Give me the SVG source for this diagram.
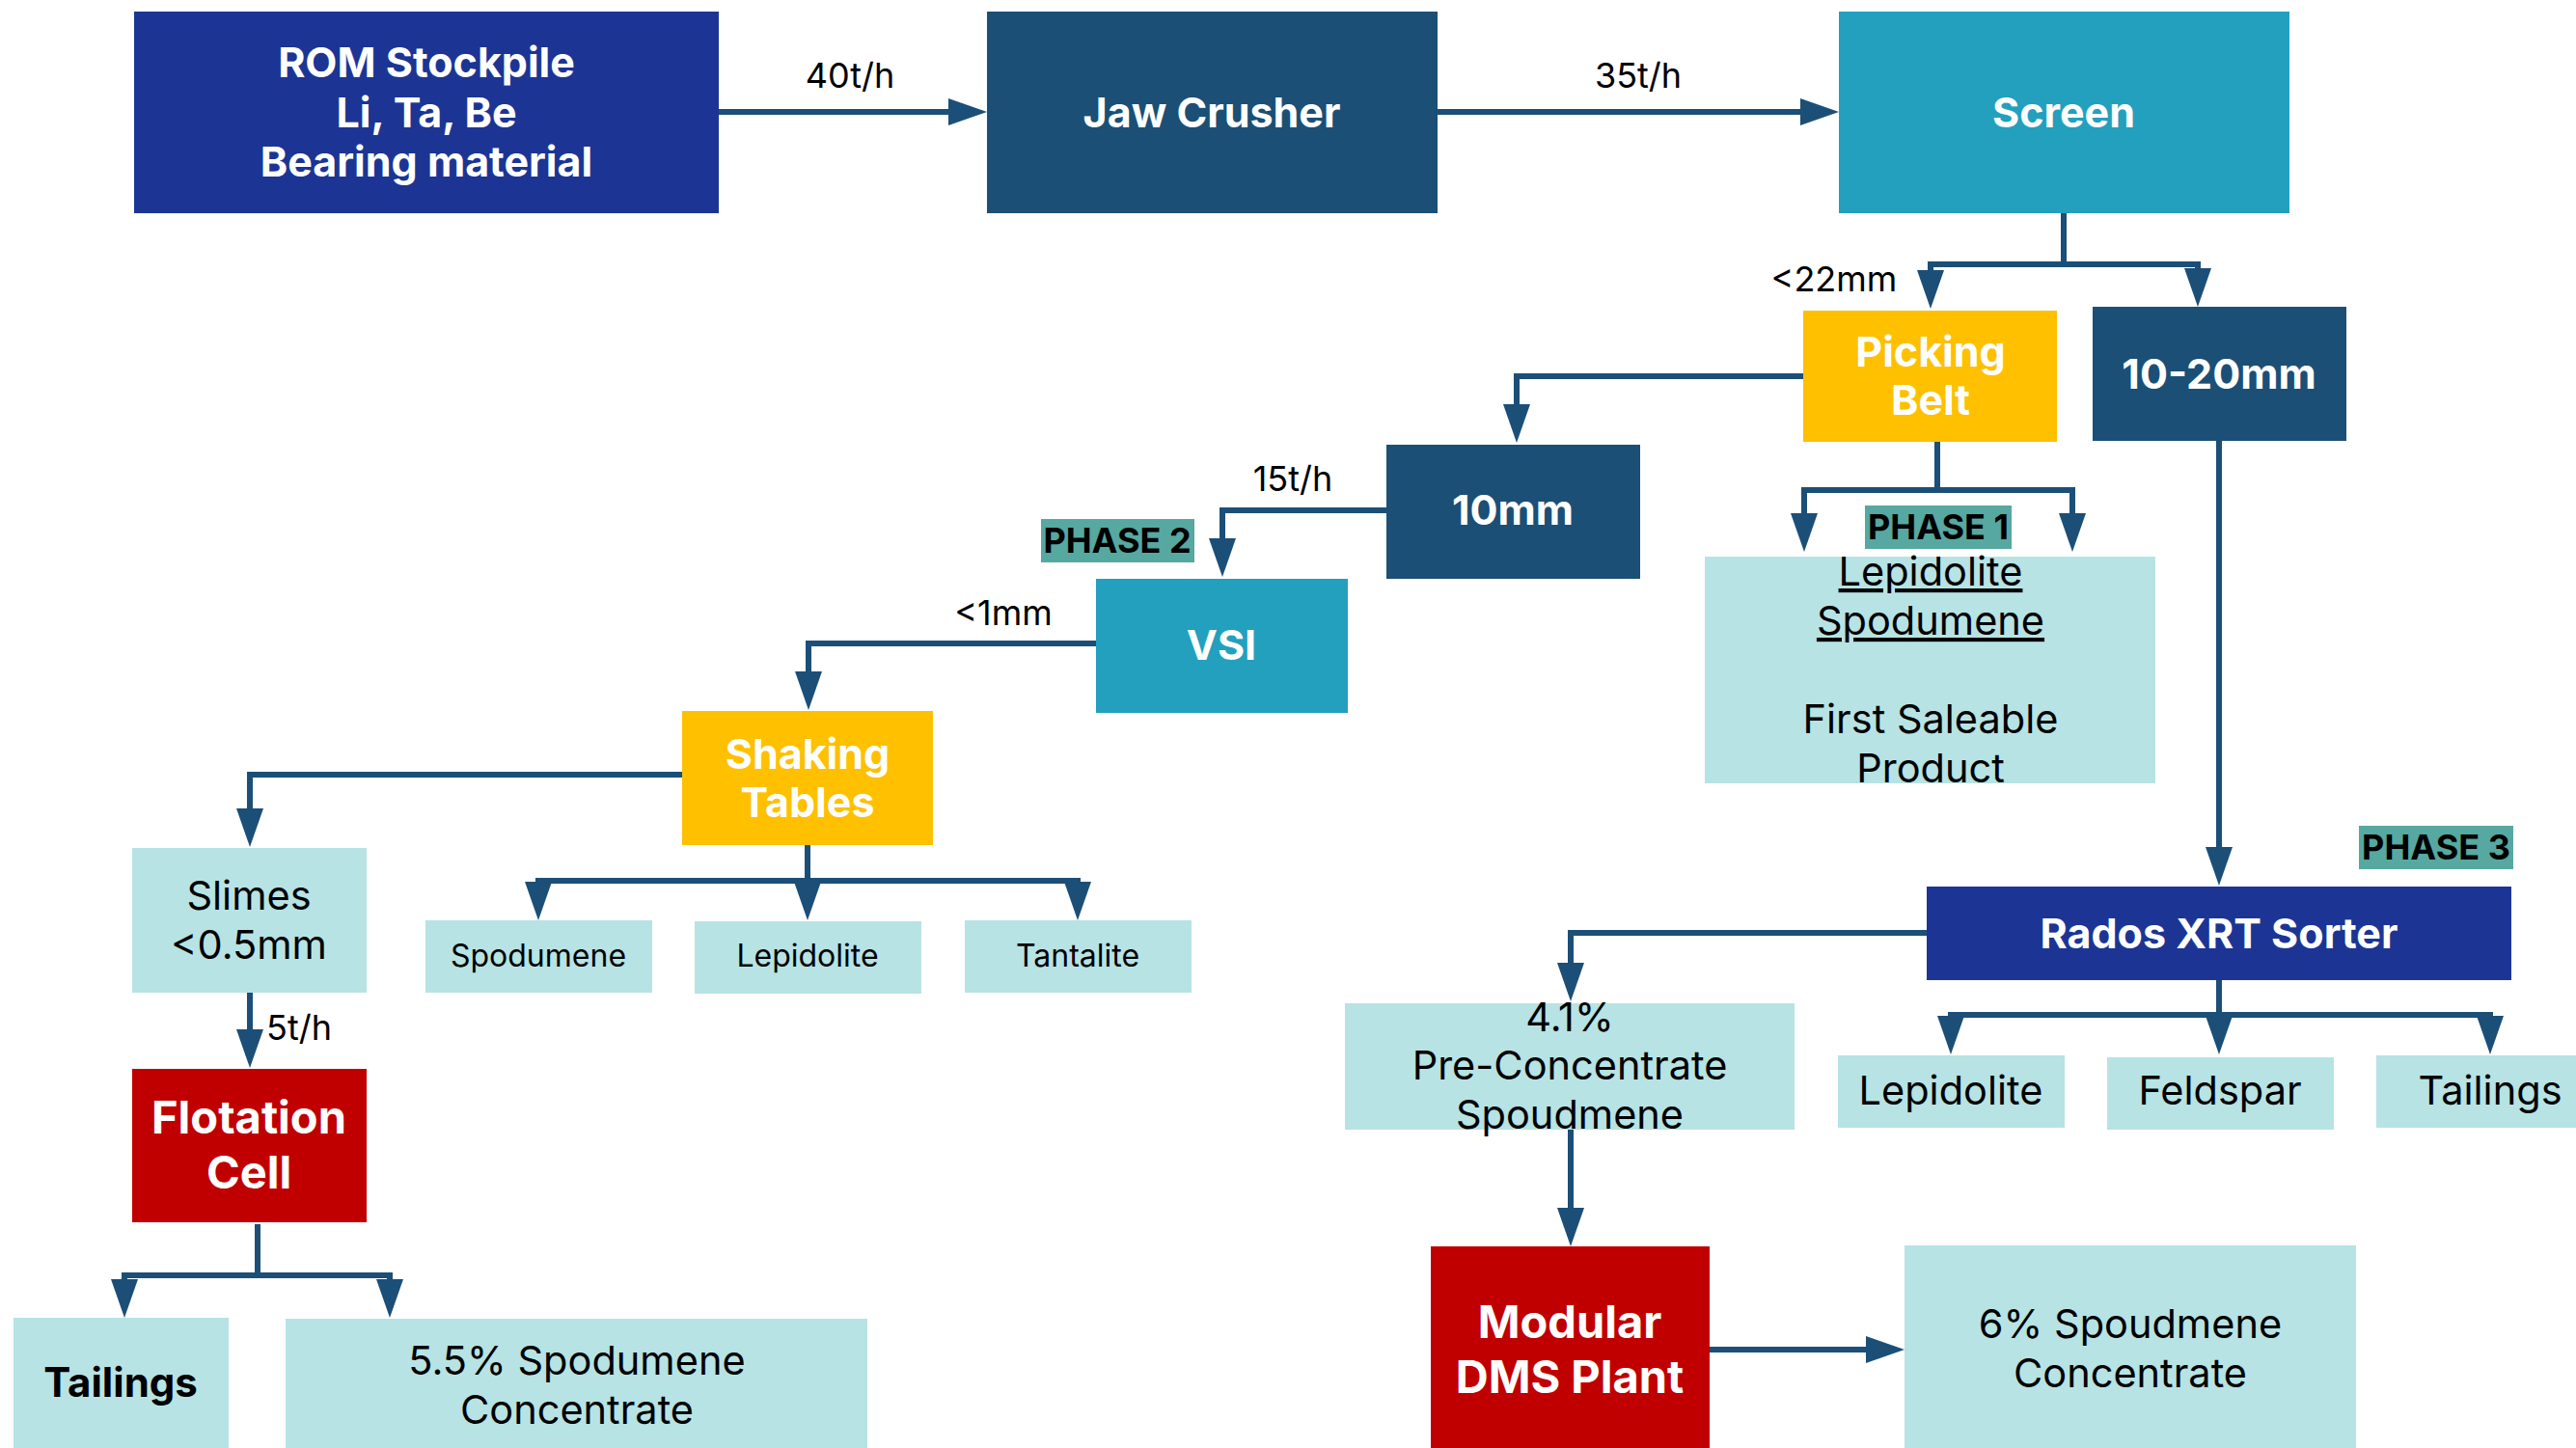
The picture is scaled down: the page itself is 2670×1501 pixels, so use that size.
<svg xmlns="http://www.w3.org/2000/svg" width="2670" height="1501" viewBox="0 0 2670 1501">
<style>
text{font-family:Inter,"Noto Sans","Liberation Sans",sans-serif;text-anchor:middle}
.w{fill:#fff;font-weight:700;font-size:43px}
.wl{fill:#fff;font-weight:700;font-size:47px}
.k{fill:#000;font-size:41.5px}
.ks{fill:#000;font-size:32px}
.lb{fill:#000;font-size:36px}
.ph{fill:#000;font-weight:700;font-size:36px}
.kb{fill:#000;font-weight:700;font-size:42px}
.u{text-decoration:underline}
.c{fill:none;stroke:#1b4f78;stroke-width:6;marker-end:url(#ah)}
.navy{fill:#1c3594}.steel{fill:#1b4f76}.cyan{fill:#23a0be}.amber{fill:#ffc000}.red{fill:#c00000}.pale{fill:#b7e3e4}.teal{fill:#56a8a0}
</style>
<defs>
<marker id="ah" markerUnits="userSpaceOnUse" viewBox="0 -14 40 28" refX="0" refY="0" markerWidth="40" markerHeight="28" orient="auto">
<path d="M0,-14 L40,0 L0,14 z" fill="#1b4f78"/>
</marker>
</defs>
<rect width="2670" height="1501" fill="#fff"/>
<g id="connectors">
<path class="c" d="M745,116 H983"/>
<path class="c" d="M1490,116 H1866"/>
<path class="c" d="M2139,221 V274 H2001 V280"/>
<path class="c" d="M2139,274 H2278 V278"/>
<path class="c" d="M1869,390 H1572 V419"/>
<path class="c" d="M1437,529 H1267 V558"/>
<path class="c" d="M2008,458 V508 H1870 V532"/>
<path class="c" d="M2008,508 H2148 V532"/>
<path class="c" d="M2300,457 V878"/>
<path class="c" d="M1136,667 H838 V696"/>
<path class="c" d="M707,803 H259 V838"/>
<path class="c" d="M837,876 V913 H558 V914"/>
<path class="c" d="M837,913 V914"/>
<path class="c" d="M837,913 H1117 V914"/>
<path class="c" d="M259,1029 V1067"/>
<path class="c" d="M267,1269 V1322 H129 V1326"/>
<path class="c" d="M267,1322 H404 V1326"/>
<path class="c" d="M1997,967 H1628 V998"/>
<path class="c" d="M2300,1016 V1052 H2022 V1053"/>
<path class="c" d="M2300,1052 V1053"/>
<path class="c" d="M2300,1052 H2581 V1053"/>
<path class="c" d="M1628,1171 V1252"/>
<path class="c" d="M1772,1399 H1934"/>
</g>
<g id="labels">
<text class="lb" x="881" y="91">40t/h</text>
<text class="lb" x="1698" y="91">35t/h</text>
<text class="lb" x="1901" y="302">&lt;22mm</text>
<text class="lb" x="1340" y="509">15t/h</text>
<text class="lb" x="1040" y="648">&lt;1mm</text>
<text class="lb" x="310" y="1078">5t/h</text>
</g>
<g id="rom"><rect class="navy" x="139" y="12" width="606" height="209"/>
<text class="w" x="442" y="80">ROM Stockpile</text><text class="w" x="442" y="132">Li, Ta, Be</text><text class="w" x="442" y="183">Bearing material</text></g>
<g id="jaw"><rect class="steel" x="1023" y="12" width="467" height="209"/><text class="w" x="1256" y="132">Jaw Crusher</text></g>
<g id="screen"><rect class="cyan" x="1906" y="12" width="467" height="209"/><text class="w" x="2139" y="132">Screen</text></g>
<g id="picking"><rect class="amber" x="1869" y="322" width="263" height="136"/><text class="w" x="2001" y="380">Picking</text><text class="w" x="2001" y="430">Belt</text></g>
<g id="size1020"><rect class="steel" x="2169" y="318" width="263" height="139"/><text class="w" x="2300" y="403">10-20mm</text></g>
<g id="mm10"><rect class="steel" x="1437" y="461" width="263" height="139"/><text class="w" x="1568" y="544">10mm</text></g>
<g id="vsi"><rect class="cyan" x="1136" y="600" width="261" height="139"/><text class="w" x="1266" y="684">VSI</text></g>
<g id="product1"><rect class="pale" x="1767" y="577" width="467" height="235"/>
<text class="k u" x="2001" y="607">Lepidolite</text><text class="k u" x="2001" y="658">Spodumene</text>
<text class="k" x="2001" y="760">First Saleable</text><text class="k" x="2001" y="811">Product</text></g>
<g id="phase1"><rect class="teal" x="1933" y="524" width="152" height="45"/><text class="ph" x="2009" y="559">PHASE 1</text></g>
<g id="phase2"><rect class="teal" x="1079" y="538" width="159" height="45"/><text class="ph" x="1158" y="573">PHASE 2</text></g>
<g id="phase3"><rect class="teal" x="2445" y="856" width="160" height="45"/><text class="ph" x="2525" y="891">PHASE 3</text></g>
<g id="shaking"><rect class="amber" x="707" y="737" width="260" height="139"/><text class="w" x="837" y="797">Shaking</text><text class="w" x="837" y="847">Tables</text></g>
<g id="slimes"><rect class="pale" x="137" y="879" width="243" height="150"/><text class="k" x="258" y="943">Slimes</text><text class="k" x="258" y="994">&lt;0.5mm</text></g>
<g id="spodumene"><rect class="pale" x="441" y="954" width="235" height="75"/><text class="ks" x="558" y="1002">Spodumene</text></g>
<g id="lepidolite1"><rect class="pale" x="720" y="955" width="235" height="75"/><text class="ks" x="837" y="1002">Lepidolite</text></g>
<g id="tantalite"><rect class="pale" x="1000" y="954" width="235" height="75"/><text class="ks" x="1117" y="1002">Tantalite</text></g>
<g id="flotation"><rect class="red" x="137" y="1108" width="243" height="159"/><text class="wl" x="258" y="1175">Flotation</text><text class="wl" x="258" y="1232">Cell</text></g>
<g id="tailings1"><rect class="pale" x="14" y="1366" width="223" height="135"/><text class="kb" x="125" y="1448">Tailings</text></g>
<g id="conc55"><rect class="pale" x="296" y="1367" width="603" height="134"/><text class="k" x="598" y="1425">5.5% Spodumene</text><text class="k" x="598" y="1476">Concentrate</text></g>
<g id="rados"><rect class="navy" x="1997" y="919" width="606" height="97"/><text class="w" x="2300" y="983">Rados XRT Sorter</text></g>
<g id="pre41"><rect class="pale" x="1394" y="1040" width="466" height="131"/><text class="k" x="1627" y="1069">4.1%</text><text class="k" x="1627" y="1119">Pre-Concentrate</text><text class="k" x="1627" y="1170">Spoudmene</text></g>
<g id="lepidolite2"><rect class="pale" x="1905" y="1094" width="235" height="75"/><text class="k" x="2022" y="1145">Lepidolite</text></g>
<g id="feldspar"><rect class="pale" x="2184" y="1096" width="235" height="75"/><text class="k" x="2301" y="1145">Feldspar</text></g>
<g id="tailings2"><rect class="pale" x="2463" y="1094" width="220" height="75"/><text class="k" x="2581" y="1145">Tailings</text></g>
<g id="dms"><rect class="red" x="1483" y="1292" width="289" height="209"/><text class="wl" x="1627" y="1387">Modular</text><text class="wl" x="1627" y="1444">DMS Plant</text></g>
<g id="conc6"><rect class="pale" x="1974" y="1291" width="468" height="210"/><text class="k" x="2208" y="1387">6% Spoudmene</text><text class="k" x="2208" y="1438">Concentrate</text></g>
</svg>
